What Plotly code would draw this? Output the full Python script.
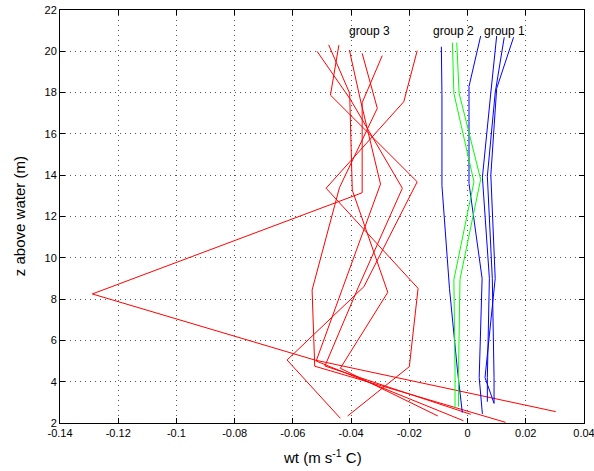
import plotly.graph_objects as go

# ---- data (x = wt, y = z above water), bottom -> top ----
red_x = [
    [-0.0412, -0.0200, -0.0170, -0.0486, -0.0219, -0.0173],
    [-0.0437, -0.0620, -0.0356, -0.0173, -0.0471, -0.0442],
    [0.0303, -0.0525, -0.1289, -0.0362, -0.0362, -0.0293],
    [0.0131, -0.0525, -0.0534, -0.0440, -0.0310, -0.0362],
    [-0.0014, -0.0520, -0.0430, -0.0299, -0.0368, -0.0406],
    [0.0011, -0.0490, -0.0376, -0.0224, -0.0402, -0.0517],
    [-0.0102, -0.0437, -0.0274, -0.0396, -0.0405, -0.0477],
]
red_y = [
    [2.34, 4.73, 8.52, 13.37, 17.56, 20.03],
    [2.23, 5.05, 8.60, 13.68, 17.88, 20.30],
    [2.55, 5.05, 8.25, 13.15, 17.51, 19.79],
    [2.03, 4.75, 8.44, 13.40, 17.24, 19.90],
    [2.11, 5.00, 8.50, 13.57, 17.64, 20.06],
    [2.42, 4.76, 8.55, 13.37, 17.66, 20.00],
    [2.34, 4.65, 8.33, 13.28, 17.97, 20.31],
]
green_x = [
    [-0.0043, -0.0043, -0.0047, 0.0022, -0.0047, -0.0052],
    [-0.0031, -0.0031, -0.0026, 0.0045, -0.0029, -0.0037],
]
green_y = [
    [2.71, 4.50, 8.93, 13.68, 17.97, 20.42],
    [2.79, 4.50, 8.96, 13.80, 17.97, 20.42],
]
blue_x = [
    [-0.0018, -0.0035, -0.0062, -0.0088, -0.0088, -0.0090],
    [0.0051, 0.0040, 0.0050, 0.0005, 0.0005, 0.0045],
    [0.0068, 0.0068, 0.0075, 0.0051, 0.0080, 0.0100],
    [0.0091, 0.0091, 0.0085, 0.0068, 0.0095, 0.0126],
    [0.0091, 0.0060, 0.0095, 0.0080, 0.0100, 0.0158],
]
blue_y = [
    [2.50, 4.60, 8.50, 13.50, 17.90, 20.22],
    [2.44, 4.20, 9.00, 13.60, 18.30, 20.74],
    [3.03, 4.20, 9.00, 13.90, 18.00, 20.74],
    [2.95, 4.20, 9.00, 13.95, 18.00, 20.68],
    [2.95, 4.20, 9.00, 14.00, 18.20, 20.68],
]
group_labels = ["group 3", "group 2", "group 1"]
group_label_x = [-0.0338, -0.0050, 0.0127]
group_label_y = [21.0, 21.0, 21.0]

x_ticks = [-0.14, -0.12, -0.10, -0.08, -0.06, -0.04, -0.02, 0, 0.02, 0.04]
x_tick_text = ["-0.14", "-0.12", "-0.1", "-0.08", "-0.06", "-0.04", "-0.02", "0", "0.02", "0.04"]
y_ticks = [2, 4, 6, 8, 10, 12, 14, 16, 18, 20, 22]

FONT = "Liberation Sans, Arial, sans-serif"

fig = go.Figure()
for xs, ys in zip(red_x, red_y):
    fig.add_trace(go.Scatter(x=xs, y=ys, mode="lines", line=dict(color="#ff0000", width=1)))
for xs, ys in zip(blue_x, blue_y):
    fig.add_trace(go.Scatter(x=xs, y=ys, mode="lines", line=dict(color="#0000ff", width=1)))
for xs, ys in zip(green_x, green_y):
    fig.add_trace(go.Scatter(x=xs, y=ys, mode="lines", line=dict(color="#00ff00", width=1)))

for t, gx, gy in zip(group_labels, group_label_x, group_label_y):
    fig.add_annotation(x=gx, y=gy, text=t, showarrow=False,
                       font=dict(family=FONT, size=12, color="black"))

# axis titles as paper-anchored annotations (plot area: 60..584 px, 10..423 px)
fig.add_annotation(text="wt (m s<sup>-1</sup> C)", xref="paper", yref="paper",
                   x=0.5, y=-0.08, xanchor="center", yanchor="middle", showarrow=False,
                   font=dict(family=FONT, size=15, color="black"))
fig.add_annotation(text="z above water (m)", xref="paper", yref="paper",
                   x=-0.077, y=0.5, xanchor="center", yanchor="middle", textangle=-90,
                   showarrow=False, font=dict(family=FONT, size=15, color="black"))

axis_common = dict(
    showline=True, linecolor="black", linewidth=1, mirror="allticks",
    ticks="inside", ticklen=5, tickcolor="black",
    showgrid=True, gridcolor="#555555", griddash="1px,4px", gridwidth=1,
    zeroline=False, automargin=False, ticklabeloverflow="allow",
    tickfont=dict(family=FONT, size=11, color="black"),
)
fig.update_layout(
    width=594, height=471,
    margin=dict(l=60, r=10, t=10, b=48, autoexpand=False),
    paper_bgcolor="white", plot_bgcolor="white",
    showlegend=False,
    xaxis=dict(range=[-0.14, 0.04], tickvals=x_ticks, ticktext=x_tick_text, **axis_common),
    yaxis=dict(range=[2, 22], tickvals=y_ticks, **axis_common),
)
fig.write_html(
    "out.html",
    config={"displayModeBar": False},
    post_script=(
        "document.body.style.margin='0px';"
        "document.body.style.overflow='hidden';"
        "document.documentElement.style.overflow='hidden';"
    ),
)
